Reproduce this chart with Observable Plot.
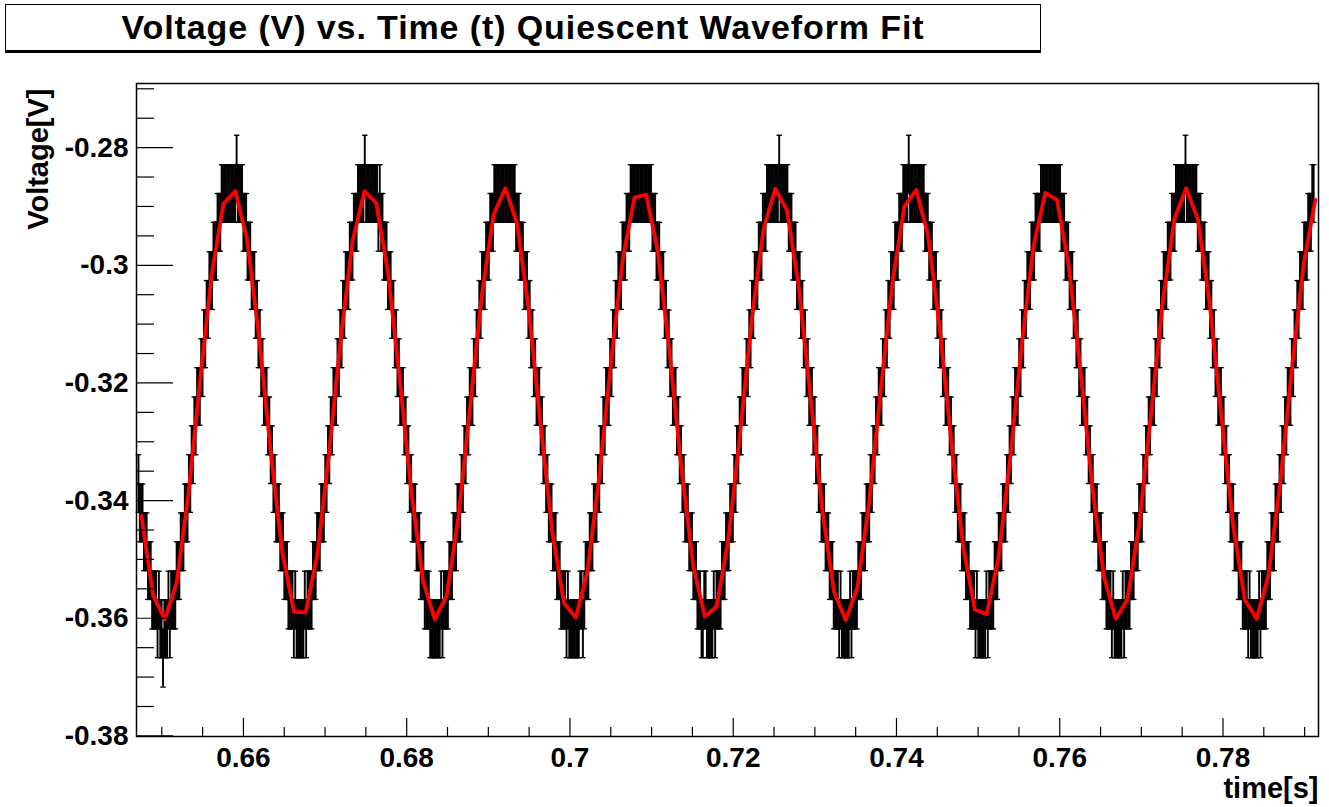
<!DOCTYPE html>
<html>
<head>
<meta charset="utf-8">
<script src="https://cdn.jsdelivr.net/npm/d3@7"></script>
<script src="https://cdn.jsdelivr.net/npm/@observablehq/plot@0.6"></script>
<style>
  html, body { margin: 0; padding: 0; background: #fff; }
  #wrap { position: relative; width: 1329px; height: 807px; font-family: "Liberation Sans", Arial, Helvetica, sans-serif; }
  #title {
    position: absolute; left: 5px; top: 4px; width: 1034px; height: 45px;
    border: 1px solid #000; border-bottom: 3px solid #000; background: #fff;
    text-align: center; font-weight: bold; font-size: 34px; line-height: 45px;
    letter-spacing: 0.9px; color: #000; white-space: nowrap; z-index: 2;
  }
  #chart { position: absolute; left: 0; top: 0; }
</style>
</head>
<body>
<div id="wrap">
  <div id="chart"></div>
  <div id="title">Voltage (V) vs. Time (t) Quiescent Waveform Fit</div>
</div>
<script>
// ---- Data ----
// Quantised voltage levels of the digitiser (V)
const levelVolts = [-0.2828, -0.2878, -0.2927, -0.2976, -0.3026, -0.3075, -0.3125, -0.3174, -0.3223,
  -0.3273, -0.3322, -0.3371, -0.3421, -0.3470, -0.3519, -0.3569, -0.3618, -0.3668];
// Sample timing (s)
const sampleStart = 0.64714;
const sampleInterval = 0.00016701;
// Measured level of every sample (index into levelVolts)
const sampleCodes = [
  11,12,12,12,13,13,13,14,14,14,15,15,15,15,16,15,16,16,17,16,16,16,15,16,15,15,15,15,14,14,14,13,13,13,12,12,12,11,11,10,10,9,9,8,8,8,7,7,6,6,5,5,4,4,4,3,3,3,2,2,2,1,1,1,1,1,1,1,1,
  1,1,1,0,1,1,1,1,2,2, 2,3,3,3,4,4,4,5,5,6, 6,7,7,8,8,8,9,9,10,10, 11,11,12,12,12,13,13,13,14,14, 14,15,15,15,15,16,15,16,16,16, 16,16,16,15,16,15,15,15,15,14, 14,14,13,13,13,12,12,12,11,11, 10,10,9,9,8,8,8,7,7,6, 6,5,5,4,4,4,3,3,3,2, 2,2,1,1,1,1,1,0,1,1,
  1,1,1,1,1,1,1,2,1,2, 2,3,3,3,4,4,4,5,5,6, 6,7,7,8,8,8,9,9,10,10, 11,11,12,12,12,13,13,13,14,14, 14,15,15,15,15,16,16,16,16,16, 16,16,16,15,16,15,15,15,15,14, 14,14,13,13,13,12,12,12,11,11, 10,10,9,9,8,8,8,7,7,6, 6,5,5,4,4,4,3,3,3,2, 2,2,1,1,1,1,1,1,1,1,
  1,1,1,1,1,1,1,1,2,2, 2,3,3,3,4,4,4,5,5,6, 6,7,7,8,8,8,9,9,10,10, 11,11,12,12,12,13,13,13,14,14, 14,15,15,15,15,16,15,16,16,16, 16,16,16,16,16,15,15,16,15,14, 14,14,13,13,13,12,12,12,11,11, 10,10,9,9,8,8,8,7,7,6, 6,5,5,4,4,4,3,3,3,2, 2,2,1,1,1,1,1,1,1,1,
  1,1,1,1,1,1,1,1,2,2, 2,3,3,3,4,4,4,5,5,6, 6,7,7,8,8,8,9,9,10,10, 11,11,12,12,12,13,13,13,14,14, 14,15,15,15,16,16,15,15,16,16, 16,16,16,15,16,15,15,15,15,14, 14,14,13,13,13,12,12,12,11,11, 10,10,9,9,8,8,8,7,7,6, 6,5,5,4,4,4,3,3,3,2, 2,2,1,1,1,1,1,1,1,1,
  1,0,1,1,1,1,1,1,2,2, 2,3,3,3,4,4,4,5,5,6, 6,7,7,8,8,8,9,9,10,10, 11,11,12,12,12,13,13,13,14,14, 14,15,15,15,15,16,15,16,16,16, 16,16,16,15,16,15,15,15,15,14, 14,14,13,13,13,12,12,12,11,11, 10,10,9,9,8,8,8,7,7,6, 6,5,5,4,4,4,3,3,3,2, 2,2,1,1,1,1,0,1,1,1,
  1,1,1,1,1,1,1,1,2,2, 2,3,3,3,4,4,4,5,5,6, 6,7,7,8,8,8,9,9,10,10, 11,11,12,12,12,13,13,13,14,14, 14,15,15,15,15,16,15,16,16,16, 16,16,16,15,16,15,15,15,15,14, 14,14,13,13,13,12,12,12,11,11, 10,10,9,9,8,8,8,7,7,6, 6,5,5,4,4,4,3,3,3,2, 2,2,2,1,1,1,1,1,1,1,
  1,1,1,1,1,1,1,1,2,2, 2,3,3,3,4,4,4,5,5,6, 6,7,7,8,8,8,9,9,10,10, 11,11,12,12,12,13,13,13,14,14, 14,15,15,15,15,16,15,16,16,16, 16,16,16,15,16,15,15,15,15,14, 14,14,13,13,13,12,12,12,11,11, 10,10,9,9,8,8,8,7,7,6, 6,5,5,4,4,4,3,3,3,2, 2,2,1,1,1,1,1,1,1,0,
  1,1,1,1,1,1,1,1,2,2, 2,3,3,3,4,4,4,5,5,6, 6,7,7,8,8,8,9,9,10,10, 11,11,12,12,12,13,13,13,14,14, 14,15,15,15,15,16,15,16,16,16, 16,16,16,15,16,15,15,15,15,14, 14,14,13,13,13,12,12,12,11,11, 10,10,9,9,8,8,8,7,7,6, 6,5,5,4,4,4,3,3,3,2, 2,2,1,1
];
// Error on each sample (V)
const sampleError = 0.0049;

// Fitted curve as drawn (red polyline)
const fitStart = 0.6475;
const fitStep = 0.0014381;
const fitVolts = [
  -0.3426,-0.3561,-0.3602,-0.3540,-0.3390,-0.3196,-0.3014,-0.2895,-0.2874,-0.2956,
  -0.3118,-0.3314,-0.3487,-0.3589,-0.3590,-0.3490,-0.3317,-0.3121,-0.2958,-0.2874,
  -0.2894,-0.3011,-0.3193,-0.3386,-0.3537,-0.3602,-0.3562,-0.3429,-0.3241,-0.3051,
  -0.2914,-0.2869,-0.2929,-0.3076,-0.3269,-0.3453,-0.3574,-0.3599,-0.3520,-0.3360,
  -0.3165,-0.2990,-0.2885,-0.2880,-0.2977,-0.3149,-0.3345,-0.3510,-0.3597,-0.3580,
  -0.3466,-0.3286,-0.3091,-0.2938,-0.2870,-0.2907,-0.3037,-0.3225,-0.3415,-0.3555,
  -0.3603,-0.3547,-0.3402,-0.3209,-0.3025,-0.2900,-0.2872,-0.2948,-0.3106,-0.3301,
  -0.3478,-0.3585,-0.3593,-0.3499,-0.3330,-0.3134,-0.2967,-0.2877,-0.2889,-0.3001,
  -0.3180,-0.3375,-0.3530,-0.3601,-0.3568,-0.3440,-0.3254,-0.3063,-0.2921,-0.2869,
  -0.2922,-0.3065,-0.3257,-0.3442,-0.3569,-0.3601,-0.3528,-0.3372,-0.3177,-0.2999,
  -0.2889
];

// Axes
const xDomain = [0.6469, 0.7917];
const yDomain = [-0.3801, -0.2691];
const xMajor = [0.66, 0.68, 0.70, 0.72, 0.74, 0.76, 0.78];
const xMajorLabels = ["0.66", "0.68", "0.7", "0.72", "0.74", "0.76", "0.78"];
const xMinor = [0.65, 0.655, 0.665, 0.67, 0.675, 0.685, 0.69, 0.695, 0.705, 0.71, 0.715,
  0.725, 0.73, 0.735, 0.745, 0.75, 0.755, 0.765, 0.77, 0.775, 0.785, 0.79];
const yMajor = [-0.38, -0.36, -0.34, -0.32, -0.30, -0.28];
const yMajorLabels = ["-0.38", "-0.36", "-0.34", "-0.32", "-0.3", "-0.28"];
const yMinor = [-0.375, -0.37, -0.365, -0.355, -0.35, -0.345, -0.335, -0.33, -0.325,
  -0.315, -0.31, -0.305, -0.295, -0.29, -0.285, -0.275, -0.27];
const xTitle = "time[s]";
const yTitle = "Voltage[V]";

// ---- Build tables ----
const samples = sampleCodes.map((c, i) => ({t: sampleStart + i * sampleInterval, v: levelVolts[c]}));
const fit = fitVolts.map((v, j) => ({t: fitStart + j * fitStep, v}));

const W = 1329, H = 807, mL = 136, mR = 11, mT = 83, mB = 71;
const innerW = W - mL - mR, innerH = H - mT - mB;

const capSymbol = {
  draw(context, size) {
    const w = Math.sqrt(size / Math.PI);
    context.moveTo(-w, 0);
    context.lineTo(w, 0);
  }
};

const font = {fontFamily: '"Liberation Sans", Arial, Helvetica, sans-serif', fontWeight: "bold"};

const chart = Plot.plot({
  width: W, height: H,
  marginLeft: mL, marginRight: mR, marginTop: mT, marginBottom: mB,
  style: {background: "#fff", color: "#000", fontFamily: font.fontFamily, fontWeight: "bold", fontSize: "28px"},
  x: {domain: xDomain},
  y: {domain: yDomain},
  marks: [
    // error bars
    Plot.ruleX(samples, {x: "t", y1: d => d.v - sampleError, y2: d => d.v + sampleError, stroke: "#000", strokeWidth: 1.9}),
    Plot.dot(samples, {x: "t", y: d => d.v + sampleError, symbol: capSymbol, r: 2.8, stroke: "#000", strokeWidth: 1.3, fill: "none"}),
    Plot.dot(samples, {x: "t", y: d => d.v - sampleError, symbol: capSymbol, r: 2.8, stroke: "#000", strokeWidth: 1.3, fill: "none"}),
    Plot.dot(samples, {x: "t", y: "v", r: 1.1, fill: "#000", stroke: "none"}),
    // fit
    Plot.line(fit, {x: "t", y: "v", stroke: "#ff0000", strokeWidth: 3.8}),
    // inward ticks
    Plot.tickY(yMajor, {y: d => d, insetRight: innerW - 37, stroke: "#000", strokeWidth: 1.2}),
    Plot.tickY(yMinor, {y: d => d, insetRight: innerW - 18, stroke: "#000", strokeWidth: 1.2}),
    Plot.tickX(xMajor, {x: d => d, insetTop: innerH - 18, stroke: "#000", strokeWidth: 1.2}),
    Plot.tickX(xMinor, {x: d => d, insetTop: innerH - 9, stroke: "#000", strokeWidth: 1.2}),
    Plot.frame({stroke: "#000", strokeWidth: 1.5}),
    // tick labels
    Plot.axisY(yMajor, {tickSize: 0, tickPadding: 8, label: null, fontSize: 28, ...font,
      tickFormat: d => yMajorLabels[yMajor.indexOf(d)]}),
    Plot.axisX(xMajor, {tickSize: 0, tickPadding: 11, label: null, fontSize: 28, ...font,
      tickFormat: d => xMajorLabels[xMajor.indexOf(d)]}),
    // axis titles
    Plot.text([xTitle], {frameAnchor: "bottom-right", textAnchor: "end", lineAnchor: "middle", dy: 52, fontSize: 29, ...font, fill: "#000"}),
    Plot.text([yTitle], {frameAnchor: "top-left", rotate: -90, textAnchor: "end", lineAnchor: "middle", dx: -98, dy: 5, fontSize: 29, ...font, fill: "#000"})
  ]
});
document.getElementById("chart").appendChild(chart);
</script>
</body>
</html>
